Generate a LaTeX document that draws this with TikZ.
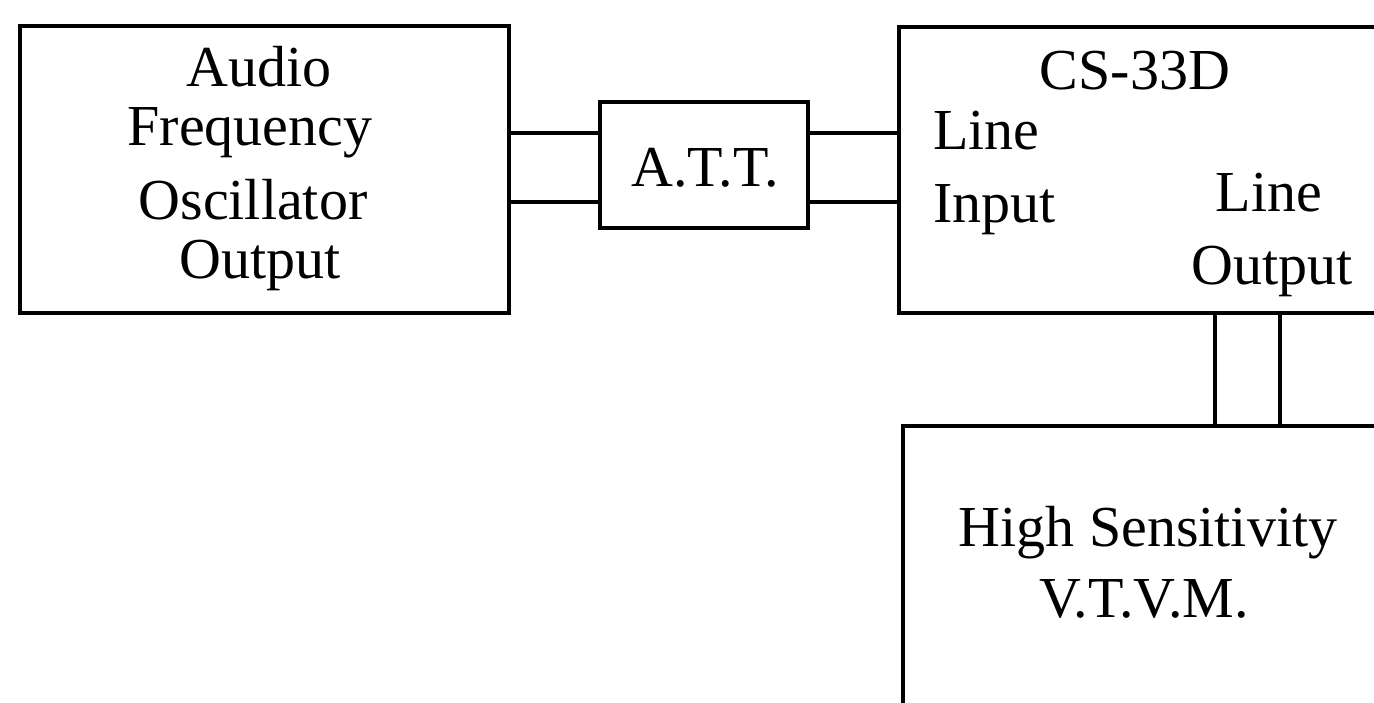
\documentclass[tikz,border=0pt]{standalone}
\usepackage{fontspec}
\setmainfont{Liberation Serif}
\begin{document}
\begin{tikzpicture}[x=1pt,y=-1pt,
  box/.style={draw, line width=3.4pt, inner sep=0pt, minimum width=#1},
  wire/.style={line width=3.2pt},
  lbl/.style={font=\fontsize{58}{60}\selectfont, inner sep=0pt, anchor=base},
  lblw/.style={font=\fontsize{58}{60}\selectfont, inner sep=0pt, anchor=base west}]
\useasboundingbox (0,0) rectangle (1374,703);
\clip (0,0) rectangle (1374,703);
% boxes
\node[box=489pt, minimum height=287pt] (osc) at (264.5,169.5) {};
\node[box=208pt, minimum height=126pt] (att) at (704,165) {};
\node[box=520pt, minimum height=286pt] (cs) at (1159,170) {};
\node[box=517pt, minimum height=332pt] (vt) at (1161.5,592) {};
% texts
\node[lbl] (t1) at (259,87) {Audio};
\node[lbl] (t2) at (250,146) {Frequency};
\node[lbl] (t3) at (253,220) {Oscillator};
\node[lbl] (t4) at (260,279) {Output};
\node[lbl] (t5) at (705,187) {A.T.T.};
\node[lbl] (t6) at (1135,90) {CS-33D};
\node[lblw] (t7) at (933,150) {Line};
\node[lblw] (t8) at (933,223) {Input};
\node[lbl] (t9) at (1269,212) {Line};
\node[lbl] (t10) at (1272,285) {Output};
\node[lbl] (t11) at (1148,546) {High Sensitivity};
\node[lbl] (t12) at (1144,617) {V.T.V.M.};
% connectors
\draw[wire] (osc.east |- 0,133) -- (att.west |- 0,133);
\draw[wire] (osc.east |- 0,202) -- (att.west |- 0,202);
\draw[wire] (att.east |- 0,133) -- (cs.west |- 0,133);
\draw[wire] (att.east |- 0,202) -- (cs.west |- 0,202);
\draw[wire] (cs.south -| 1215,0) -- (vt.north -| 1215,0);
\draw[wire] (cs.south -| 1280,0) -- (vt.north -| 1280,0);
\end{tikzpicture}
\end{document}
